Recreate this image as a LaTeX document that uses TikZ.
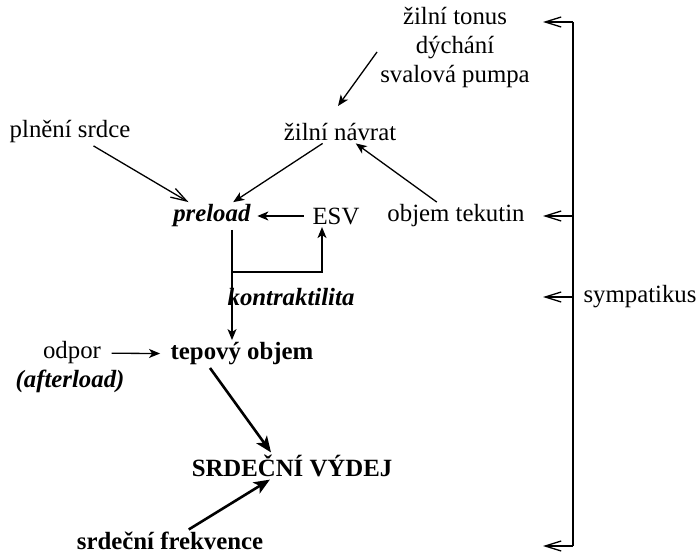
\documentclass[tikz,border=0pt]{standalone}
\usepackage{fontspec}
\setmainfont{Liberation Serif}
\usetikzlibrary{arrows.meta}
\usetikzlibrary{math}
\usetikzlibrary{calc}

\begin{document}
\begin{tikzpicture}[x=0.5pt,y=-0.5pt,line width=0.65pt,
    font=\fontsize{12.4}{14.5}\selectfont,
    every node/.style={inner sep=1pt},
    flow/.style={-{Stealth[length=5.5pt,width=4.5pt,inset=1.5pt]}},
    thickflow/.style={-{Stealth[length=8pt,width=6.5pt,inset=2pt]},line width=1.3pt},
    openflow/.style={-{Straight Barb[length=8pt,width=5pt]}}]

  \tikzmath{
    \busx = 573; % x of the sympatikus bracket
    \tipx = 543; % x where its arrows end
  }

  \useasboundingbox (0,0) rectangle (699,555);

  % upper part
  \node[align=center] (tonus) at (455,48) {žilní tonus\\dýchání\\svalová pumpa};
  \node (navrat) at (340,132) {žilní návrat};
  \node (plneni) at (70,132) {plnění srdce};
  \node (preload) at (212,216) {\textbf{\textit{preload}}};
  \node (esv) at (336,216) {ESV};
  \node (tekutin) at (456,216) {objem tekutin};
  \node (kontr) at (291,297) {\textbf{\textit{kontraktilita}}};

  % lower part
  \node (odpor) at (72,353) {odpor};
  \node (after) at (70,381) {\textbf{\textit{(afterload)}}};
  \node (tepovy) at (242,354) {\textbf{tepový objem}};
  \node (vydej) at (292,466) {\textbf{SRDEČNÍ VÝDEJ}};
  \node (frekv) at (170,541) {\textbf{srdeční frekvence}};
  \node (symp) at (640,297) {sympatikus};

  % connectors
  \draw[flow] (377,52) -- (338,106);
  \draw[flow] (navrat) -- (preload);
  \draw[openflow] (plneni) -- (preload);
  \draw[flow] (tekutin) -- (navrat);
  \draw[flow,shorten <=3pt,shorten >=2pt] (esv) -- (preload);
  \coordinate (split) at (232,272);
  \draw[flow] (preload.south -| split) -- (split) -| (esv.south -| 322,0);
  \draw[flow] (split) -- (tepovy.north -| split);
  \draw[flow,shorten <=4pt,shorten >=4pt] (odpor) -- (tepovy);
  \draw[thickflow] (210,368) -- (vydej.north -| 271,0);
  \draw[thickflow] (frekv) -- (vydej);

  % sympatikus bracket
  \coordinate (btop) at (\busx,22);
  \coordinate (bbot) at (\busx,546);
  \draw (btop) -- (bbot);
  \foreach \y in {22,216,297,546}
    \draw[openflow] (\busx,\y) -- (\tipx,\y);

\end{tikzpicture}
\end{document}
